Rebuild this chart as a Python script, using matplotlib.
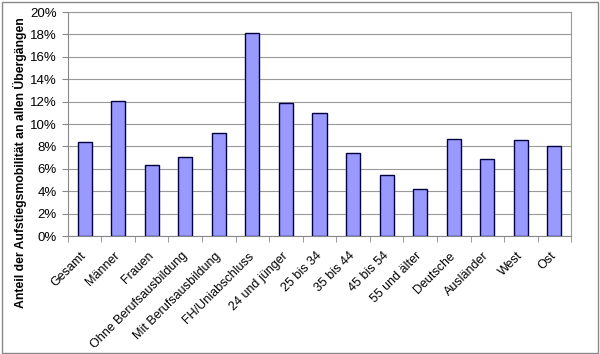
import numpy as np
import matplotlib.pyplot as plt
from matplotlib.ticker import PercentFormatter, FixedLocator
from matplotlib.patches import Rectangle

plt.rcParams['font.family'] = ['Liberation Sans', 'DejaVu Sans']

# Data
categories = ['Gesamt', 'Männer', 'Frauen', 'Ohne Berufsausbildung', 'Mit Berufsausbildung',
              'FH/Uniabschluss', '24 und jünger', '25 bis 34', '35 bis 44', '45 bis 54',
              '55 und älter', 'Deutsche', 'Ausländer', 'West', 'Ost']
values = [8.4, 12.05, 6.35, 7.1, 9.2, 18.15, 11.9, 11.0, 7.4, 5.45, 4.25, 8.65, 6.9, 8.55, 8.0]
y_label = 'Anteil der Aufstiegsmobilität an allen Übergängen'

fig = plt.figure(figsize=(6, 3.54), dpi=100)
ax = fig.add_axes([0.113, 0.333, 0.839, 0.633])

x = np.arange(len(categories))
ax.bar(x, values, width=0.42, color='#9999ff', edgecolor='#000040', linewidth=1.0, zorder=3)

ax.set_xlim(-0.5, len(categories) - 0.5)
ax.set_ylim(0, 20)
ax.set_yticks(np.arange(0, 21, 2))
ax.yaxis.set_major_formatter(PercentFormatter(decimals=0))
ax.grid(axis='y', color='#999999', linewidth=0.8, zorder=0)

ax.set_xticks(x)
ax.set_xticklabels(categories, rotation=45, ha='right', va='center', rotation_mode='anchor',
                   fontsize=9)
ax.xaxis.set_minor_locator(FixedLocator(np.arange(-0.5, len(categories), 1)))
ax.tick_params(axis='x', which='major', length=0, pad=13)
ax.tick_params(axis='x', which='minor', length=4, color='#888888', direction='out')
ax.tick_params(axis='y', length=4, color='#888888', labelsize=9.5, pad=4)

for side in ['left', 'bottom']:
    ax.spines[side].set_color('#888888')
for side in ['top', 'right']:
    ax.spines[side].set_color('#999999')
    ax.spines[side].set_linewidth(0.8)

ax.set_ylabel(y_label, fontsize=8.8, fontweight='bold')
ax.yaxis.set_label_coords(-0.082, 0.33)

# outer border of the chart
fig.patches.append(Rectangle((0.003, 0.004), 0.994, 0.99, transform=fig.transFigure,
                             fill=False, edgecolor='#888888', linewidth=1.0))

fig.savefig('out.png', dpi=100)
